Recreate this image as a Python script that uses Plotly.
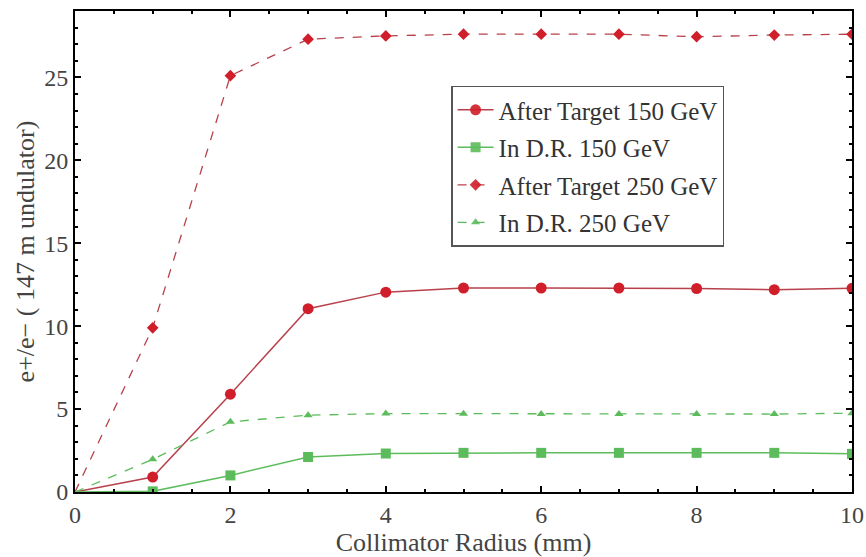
import plotly.graph_objects as go

radius = [0, 1, 2, 3, 4, 5, 6, 7, 8, 9, 10]
after_target_150 = [0, 0.9, 5.9, 11.05, 12.05, 12.3, 12.3, 12.3, 12.27, 12.2, 12.28]
in_dr_150 = [0, 0.04, 1.0, 2.11, 2.32, 2.36, 2.36, 2.36, 2.36, 2.36, 2.3]
after_target_250 = [0, 9.9, 25.1, 27.3, 27.5, 27.6, 27.6, 27.6, 27.45, 27.55, 27.6]
in_dr_250 = [0, 1.97, 4.23, 4.63, 4.73, 4.72, 4.7, 4.7, 4.7, 4.7, 4.75]

RED = "#d01f2b"
REDLINE = "#b8404a"
GREEN = "#5cbc5c"
FONT = "Liberation Serif"

# no marker drawn at the origin point
hide_origin = [0] + [1] * (len(radius) - 1)

fig = go.Figure()
fig.add_trace(go.Scatter(x=radius, y=after_target_150, name="After Target 150 GeV",
                         mode="lines+markers", legendgroup="a",
                         line=dict(color=REDLINE, width=1.5),
                         marker=dict(symbol="circle", size=11, color=RED, opacity=hide_origin,
                                     line=dict(width=0))))
fig.add_trace(go.Scatter(x=radius, y=in_dr_150, name="In D.R. 150 GeV",
                         mode="lines+markers", legendgroup="b",
                         line=dict(color=GREEN, width=1.5),
                         marker=dict(symbol="square", size=10, color=GREEN, opacity=hide_origin,
                                     line=dict(width=0))))
fig.add_trace(go.Scatter(x=radius, y=after_target_250, name="After Target 250 GeV",
                         mode="lines+markers", legendgroup="c",
                         line=dict(color=REDLINE, width=1.3, dash="dash"),
                         marker=dict(symbol="diamond", size=9, color=RED, opacity=hide_origin,
                                     line=dict(width=0))))
fig.add_trace(go.Scatter(x=radius, y=in_dr_250, name="In D.R. 250 GeV",
                         mode="lines+markers", legendgroup="d",
                         line=dict(color=GREEN, width=1.3, dash="dash"),
                         marker=dict(symbol="triangle-up", size=8, color=GREEN, opacity=hide_origin,
                                     line=dict(width=0))))

axis_common = dict(showline=True, linecolor="black", linewidth=2, mirror="ticks",
                   ticks="inside", ticklen=6, tickwidth=1.5, tickcolor="black",
                   showgrid=False, zeroline=False, automargin=False,
                   tickfont=dict(family=FONT, size=24, color="#444444"))

fig.update_xaxes(range=[0, 10], dtick=2, tick0=0,
                 minor=dict(dtick=0.5, ticks="inside", ticklen=3, tickcolor="black"),
                 title=dict(text="Collimator Radius (mm)", font=dict(family=FONT, size=26, color="#444444"),
                            standoff=2),
                 **axis_common)
fig.update_yaxes(range=[0, 29], dtick=5, tick0=0,
                 minor=dict(dtick=1, ticks="inside", ticklen=3, tickcolor="black"),
                 title=dict(text="e+/e\u2212 ( 147 m undulator)", font=dict(family=FONT, size=26, color="#444444"),
                            standoff=2),
                 **axis_common)

fig.update_layout(
    width=866, height=557,
    margin=dict(l=75, r=14, t=11, b=65),
    plot_bgcolor="white", paper_bgcolor="white",
    legend=dict(x=0.484, y=0.845, xanchor="left", yanchor="top",
                bgcolor="white", bordercolor="#555555", borderwidth=1.5,
                font=dict(family=FONT, size=25, color="#333333"),
                itemwidth=36, tracegroupgap=2),
)

fig.write_html("out.html")
